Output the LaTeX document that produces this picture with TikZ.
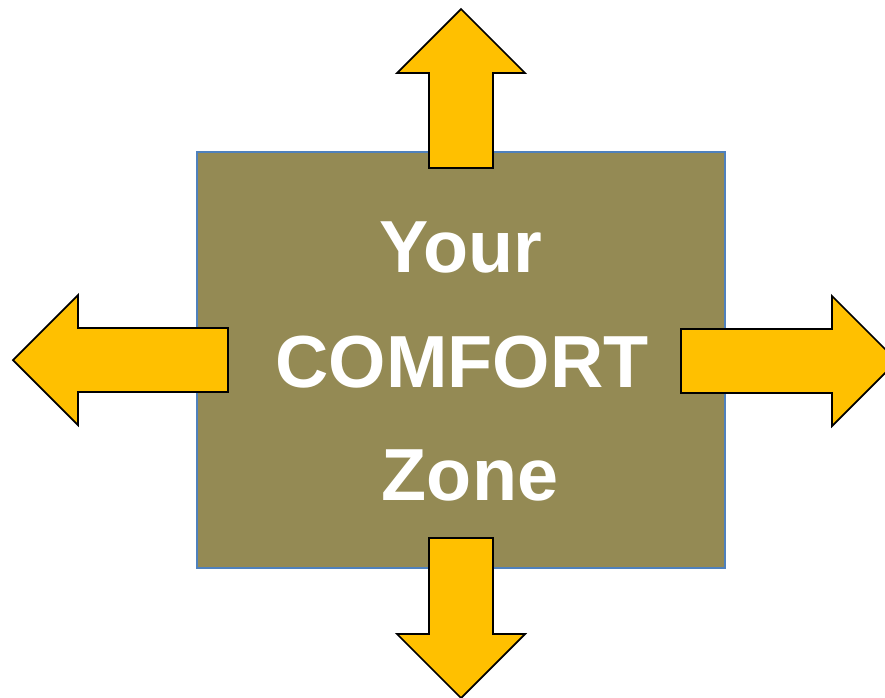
\documentclass[tikz,border=0pt]{standalone}
\usepackage{fontspec}
\setmainfont{Liberation Sans}
\usetikzlibrary{positioning}
\definecolor{ZoneOlive}{RGB}{148,138,84}
\definecolor{ZoneLine}{RGB}{79,129,189}
\definecolor{ArrowGold}{RGB}{255,192,0}

\begin{document}
\begin{tikzpicture}[x=0.02cm,y=-0.02cm,
    arrowbox/.style={fill=ArrowGold,draw=black,line width=1pt,line join=miter},
    zonetext/.style={anchor=base,text=white,font=\fontsize{42}{50}\selectfont\bfseries}]
      \useasboundingbox (0,0) rectangle (885,697);
      \draw[fill=ZoneOlive,draw=ZoneLine,line width=.8pt]
        (197,152) rectangle (725,568);
      % up
      \filldraw[arrowbox] (429,168) -- (429,73) -- (397,73) -- (461,9)
        -- (525,73) -- (493,73) -- (493,168) -- cycle;
      % down
      \filldraw[arrowbox] (429,538) -- (429,634) -- (397,634) -- (461,698)
        -- (525,634) -- (493,634) -- (493,538) -- cycle;
      % left
      \filldraw[arrowbox] (228,328) -- (78,328) -- (78,295) -- (13,360)
        -- (78,425) -- (78,392) -- (228,392) -- cycle;
      % right
      \filldraw[arrowbox] (681,329) -- (832,329) -- (832,296) -- (897,361)
        -- (832,426) -- (832,393) -- (681,393) -- cycle;
      \node[zonetext] (your) at (461,272) {Your};
      \node[zonetext] (comfort) at (462,387) {COMFORT};
      \node[zonetext] (zone) at (470,500) {Zone};
    \end{tikzpicture}
\end{document}
